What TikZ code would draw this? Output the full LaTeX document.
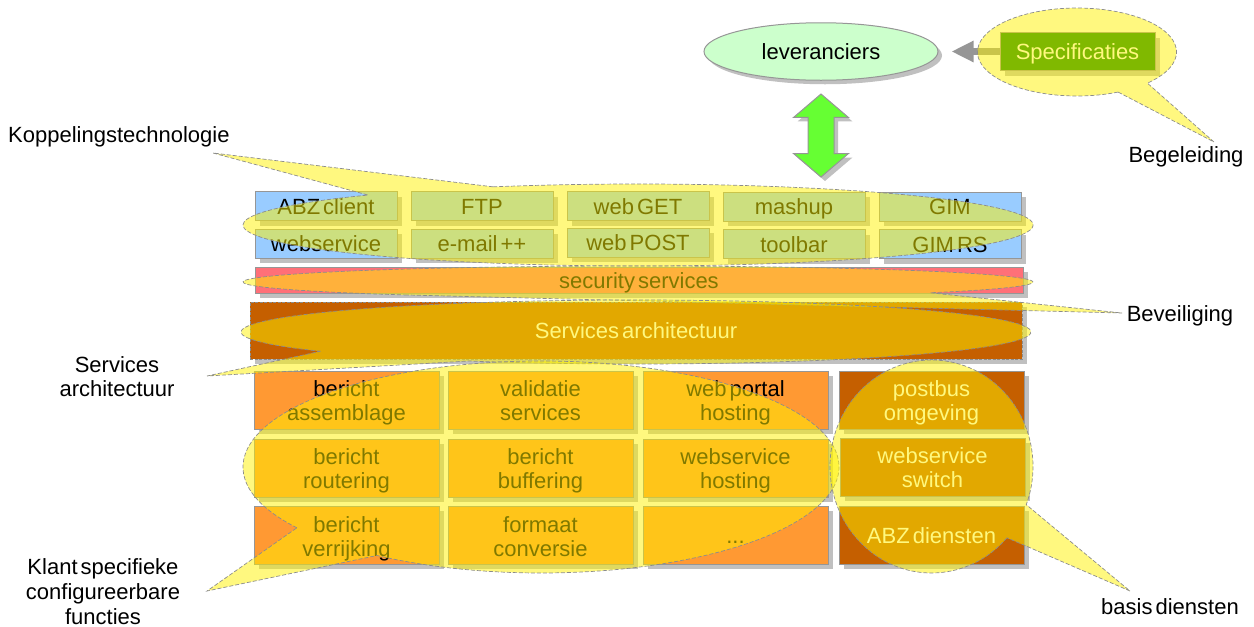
\documentclass[tikz,border=0pt]{standalone}
\usepackage{fontspec}
\setmainfont[WordSpace=0.5]{Liberation Sans}
\usetikzlibrary{shadows,shapes.geometric,shapes.arrows,arrows.meta}
\definecolor{edge}{HTML}{969696}
\definecolor{shade}{HTML}{C0C0C0}
\definecolor{sky}{HTML}{99CCFF}
\definecolor{pinkish}{HTML}{FF7078}
\definecolor{rust}{HTML}{C55F00}
\definecolor{amber}{HTML}{FF9933}
\definecolor{mint}{HTML}{CCFFCC}
\definecolor{lime}{HTML}{66FF33}
\definecolor{forest}{HTML}{008000}
\definecolor{dashgray}{HTML}{8C8C8C}
\tikzset{
  txt/.style={font=\fontsize{22}{24}\selectfont,align=center,inner sep=0pt},
  tile/.style={rectangle,draw=edge,line width=1pt,inner sep=0pt,
    copy shadow={shadow xshift=5pt,shadow yshift=-5pt,fill=shade,draw=none,opacity=1}},
  small/.style={tile,fill=sky,minimum width=142pt,minimum height=29pt},
  large/.style={tile,fill=amber,minimum width=185pt,minimum height=58pt},
  dark/.style={large,fill=rust},
  balloon/.style={fill=yellow,fill opacity=.5,draw=dashgray,line width=.7pt,dash pattern=on 4pt off 2pt},
  label/.style={txt,text=black}
}
% \balloon{cx}{cy}{rx}{ry}{start}{end}{tip coordinate}
\newcommand{\balloon}[7]{%
  \path[balloon] ({#1+#3*cos(#5)},{#2+#4*sin(#5)})
    arc[start angle=#5,end angle=#6,x radius=#3,y radius=#4] -- (#7) -- cycle;}
% \tx[colour]{tile}{baseline y of last line}{text}
\newcommand{\tx}[4][black]{\node[txt,text=#1,anchor=base] at (#2.center |- 0,#3) {#4};}
\begin{document}
\begin{tikzpicture}[x=1pt,y=-1pt]
\useasboundingbox (0,0) rectangle (1254,627);
% top
\node[ellipse,draw=edge,line width=1pt,fill=mint,minimum width=234pt,minimum height=57.5pt,inner sep=0pt,
  copy shadow={shadow xshift=4pt,shadow yshift=-4pt,fill=shade,draw=none,opacity=1}] (lev) at (821,51.5) {};
\tx{lev}{59}{leveranciers}
\node[tile,fill=forest,minimum width=155pt,minimum height=38pt] (spec) at (1077.5,51.5) {};
\tx[white]{spec}{59}{Specificaties}
\draw[edge,line width=7pt,-{Triangle[length=22pt,width=20pt]},shorten >=13pt] (spec.west) -- (lev.east);
\node[double arrow,draw=edge,line width=1pt,fill=lime,rotate=90,inner sep=12.5pt,minimum height=83pt,
  double arrow head extend=14.5pt,double arrow tip angle=99,
  copy shadow={shadow xshift=4pt,shadow yshift=-4pt,fill=shade,draw=none,opacity=1}] (dbl) at (821,135.5) {};
% small tiles
\node[small] (abz) at (326,206) {}; \tx{abz}{214}{ABZ client}
\node[small] (ftp) at (482,206) {}; \tx{ftp}{214}{FTP}
\node[small] (get) at (638,206) {}; \tx{get}{214}{web GET}
\node[small] (mash) at (794,206.5) {}; \tx{mash}{214}{mashup}
\node[small] (gim) at (950,206.5) {}; \tx{gim}{214}{GIM}
\node[small] (ws) at (326,243.5) {}; \tx{ws}{251}{webservice}
\node[small] (mail) at (482,243.5) {}; \tx{mail}{251}{e-mail ++}
\node[small] (post) at (638,242.5) {}; \tx{post}{250}{web POST}
\node[small] (tool) at (794,244) {}; \tx{tool}{252}{toolbar}
\node[small] (gimrs) at (950,244) {}; \tx{gimrs}{252}{GIM RS}
% bars
\node[tile,fill=pinkish,minimum width=768pt,minimum height=26pt] (sec) at (639,280) {}; \tx{sec}{288}{security services}
\node[tile,fill=rust,draw=dashgray,dash pattern=on 3pt off 1.5pt,minimum width=772pt,minimum height=57pt] (arch) at (636,330.5) {}; \tx[white]{arch}{338}{Services architectuur}
% large tiles
\node[large] (a1) at (346.5,400) {}; \tx{a1}{420}{bericht\\assemblage}
\node[large] (a2) at (540.5,400) {}; \tx{a2}{420}{validatie\\services}
\node[large] (a3) at (735.5,400) {}; \tx{a3}{420}{web portal\\hosting}
\node[dark]  (a4) at (931.5,400) {}; \tx[white]{a4}{420}{postbus\\omgeving}
\node[large] (b1) at (346.5,468) {}; \tx{b1}{488}{bericht\\routering}
\node[large] (b2) at (540.5,468) {}; \tx{b2}{488}{bericht\\buffering}
\node[large] (b3) at (735.5,468) {}; \tx{b3}{488}{webservice\\hosting}
\node[dark]  (b4) at (932.5,467) {}; \tx[white]{b4}{487}{webservice\\switch}
\node[large] (c1) at (346.5,535) {}; \tx{c1}{556}{bericht\\verrijking}
\node[large] (c2) at (540.5,535) {}; \tx{c2}{556}{formaat\\conversie}
\node[large] (c3) at (735.5,535) {}; \tx{c3}{543}{...}
\node[dark]  (c4) at (931.5,535) {}; \tx[white]{c4}{543}{ABZ diensten}
% tips
\coordinate (t1) at (1214,142);
\coordinate (t2) at (213,153);
\coordinate (t3) at (1122,313);
\coordinate (t4) at (207,376);
\coordinate (t5) at (207,591);
\coordinate (t6) at (1130,591);
% balloons
\balloon{1077}{52}{99.5}{44}{65.6}{405}{t1}
\balloon{638}{225}{395}{41}{-111.5}{226.9}{t2}
\balloon{638}{282}{395}{16}{125.8}{402.3}{t3}
\balloon{636}{332}{395}{32}{143}{475}{t4}
\balloon{541}{467}{298}{106}{145}{483.4}{t5}
\balloon{931.5}{466.5}{101.5}{106.5}{42}{381}{t6}
% labels
\node[label,anchor=west] (l1) at (8,137) {Koppelingstechnologie};
\node[label] (l2) at (1186,157) {Begeleiding};
\node[label] (l3) at (1180,316) {Beveiliging};
\node[label] (l4) at (117,377) {Services\\architectuur};
\node[label,font=\fontsize{22}{25}\selectfont] (l5) at (103,592) {Klant specifieke\\configureerbare\\functies};
\node[label] (l6) at (1170,607) {basis diensten};
\end{tikzpicture}
\end{document}
